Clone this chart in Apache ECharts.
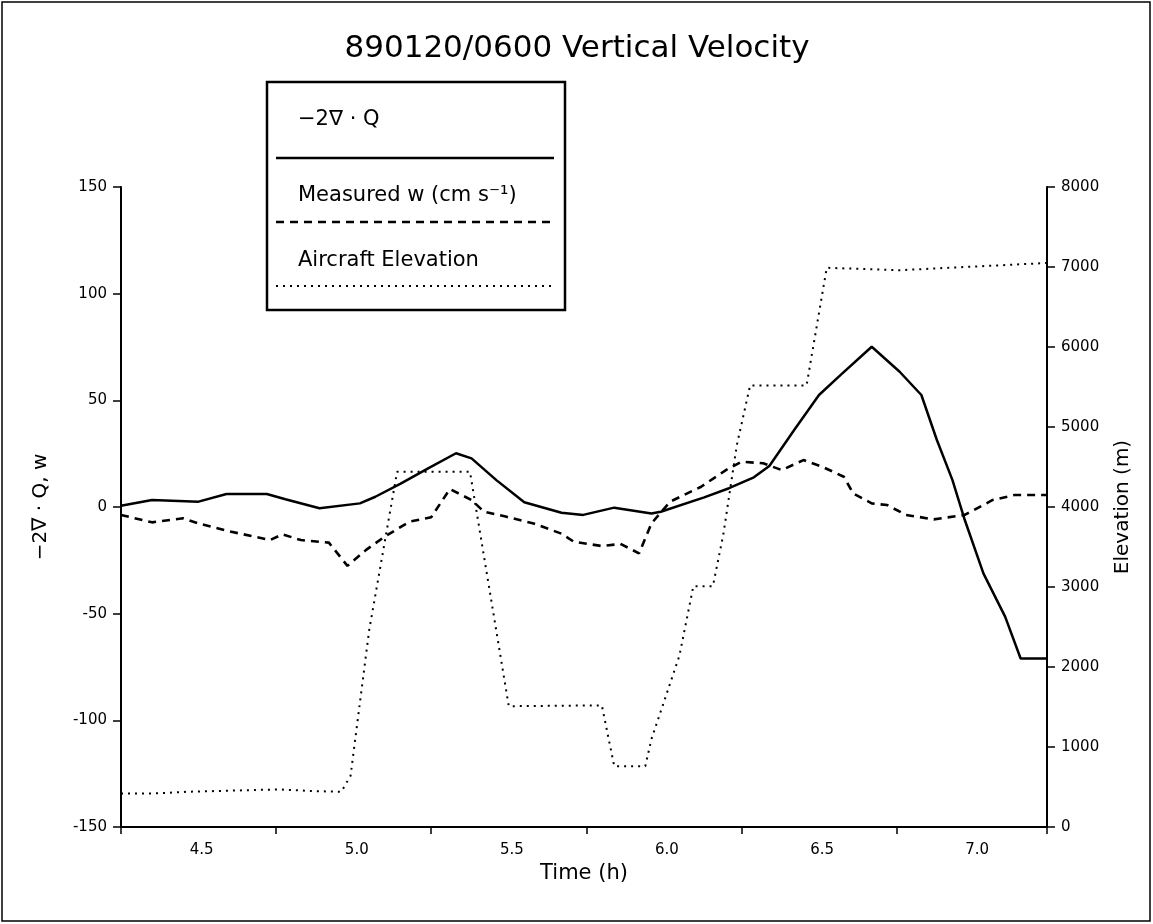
<!DOCTYPE html>
<html>
<head>
<meta charset="utf-8">
<script src="https://cdn.jsdelivr.net/npm/echarts@6/dist/echarts.min.js"></script>
<style>
  html, body { margin: 0; padding: 0; background: #fff; }
  #chart { width: 1153px; height: 924px; }
</style>
</head>
<body>
<div id="chart"></div>
<script>
// -2 div Q (solid)
var timeQ = [4.24, 4.34, 4.49, 4.58, 4.71, 4.77, 4.88, 5.01, 5.06, 5.14, 5.23, 5.32, 5.37, 5.45, 5.54, 5.66, 5.73, 5.83, 5.95, 5.98,
  6.12, 6.20, 6.28, 6.33, 6.41, 6.49, 6.56, 6.66, 6.75, 6.82, 6.87, 6.92, 6.96, 7.02, 7.09, 7.14, 7.225];
var divQ = [0.6, 3.3, 2.5, 6.1, 6.1, 3.6, -0.6, 1.7, 4.8, 10.8, 18.1, 25.2, 22.8, 12.6, 2.2, -2.7, -3.7, -0.3, -3.0, -2.2,
  4.5, 8.8, 13.9, 19.2, 36.1, 52.5, 61.9, 75.1, 63.4, 52.5, 31.4, 12.7, -6.1, -31.1, -51.4, -71, -71];

// measured w (dashed)
var timeW = [4.24, 4.34, 4.44, 4.49, 4.58, 4.66, 4.72, 4.76, 4.82, 4.91, 4.97, 5.03, 5.09, 5.17, 5.24, 5.30, 5.37, 5.41, 5.48,
  5.57, 5.66, 5.70, 5.79, 5.85, 5.91, 5.95, 6.01, 6.11, 6.19, 6.24, 6.31, 6.37, 6.44, 6.50, 6.57, 6.60, 6.66, 6.71, 6.77, 6.86,
  6.96, 7.05, 7.12, 7.225];
var measuredW = [-3.7, -7.2, -5.3, -7.7, -11.1, -13.6, -15.5, -12.8, -15.5, -16.7, -27.6, -20.1, -13.9, -6.9, -4.8, 8.4, 3.3, -2.2, -4.5,
  -7.7, -12.5, -16.3, -18.3, -17.3, -21.7, -7.7, 2.5, 9.5, 17.3, 21.2, 20.5, 17.3, 22.0, 18.9, 14.2, 6.4, 1.7, 0.9, -3.7, -5.8,
  -3.7, 3.3, 5.6, 5.6];

// aircraft elevation (dotted, right axis)
var timeElev = [4.24, 4.35, 4.45, 4.55, 4.65, 4.75, 4.85, 4.95, 4.98, 5.04, 5.13, 5.365, 5.49, 5.79, 5.83, 5.93, 5.95, 6.04,
  6.085, 6.148, 6.182, 6.225, 6.268, 6.45, 6.515, 6.75, 7.225];
var elevation = [420, 420, 440, 450, 460, 470, 450, 440, 640, 2460, 4440, 4440, 1510, 1520, 760, 760, 1100, 2140,
  3010, 3010, 3665, 4770, 5520, 5520, 6990, 6960, 7050];

var xLabelValues = [4.5, 5.0, 5.5, 6.0, 6.5, 7.0];
var xTickValues = [4.24, 4.74, 5.24, 5.74, 6.24, 6.74, 7.225];

function pairs(xs, ys) {
  return xs.map(function (x, i) { return [x, ys[i]]; });
}

var font = "DejaVu Sans";
var chart = echarts.init(document.getElementById("chart"));
var axisLine = { show: true, onZero: false, lineStyle: { color: "#000", width: 2 } };
var axisTick = { show: true, inside: false, length: 8, lineStyle: { color: "#000", width: 1.5 } };
var axisLabel = { color: "#000", fontFamily: font, fontSize: 15, margin: 14, formatter: function (v) { return String(v); } };

var option = {
  backgroundColor: "#fff",
  animation: false,
  title: {
    text: "890120/0600 Vertical Velocity",
    left: 572, top: 28, textAlign: "center",
    textStyle: { fontFamily: font, fontWeight: "normal", fontSize: 31, color: "#000" }
  },
  grid: { left: 121, right: 106, top: 187, bottom: 97 },
  xAxis: {
    type: "value", min: 4.24, max: 7.225,
    name: "Time (h)", nameLocation: "middle", nameGap: 35,
    nameTextStyle: { fontFamily: font, fontSize: 21, color: "#000" },
    axisLine: axisLine,
    axisTick: { show: true, length: 7, customValues: xTickValues, lineStyle: { color: "#000", width: 1.5 } },
    splitLine: { show: false },
    axisLabel: {
      color: "#000", fontFamily: font, fontSize: 15, margin: 16,
      customValues: xLabelValues,
      formatter: function (v) { return v.toFixed(1); }
    }
  },
  yAxis: [
    {
      type: "value", min: -150, max: 150, interval: 50, position: "left",
      axisLine: axisLine, axisTick: axisTick, axisLabel: axisLabel, splitLine: { show: false },
      name: "\u22122\u2207 \u00b7 Q, w", nameLocation: "middle", nameGap: 70, nameRotate: 90,
      nameTextStyle: { fontFamily: font, fontSize: 20, color: "#000" }
    },
    {
      type: "value", min: 0, max: 8000, interval: 1000, position: "right",
      axisLine: axisLine, axisTick: axisTick, axisLabel: axisLabel, splitLine: { show: false },
      name: "Elevation (m)", nameLocation: "middle", nameGap: 66, nameRotate: 90,
      nameTextStyle: { fontFamily: font, fontSize: 20, color: "#000" }
    }
  ],
  series: [
    {
      name: "\u22122\u2207 \u00b7 Q", type: "line", data: pairs(timeQ, divQ),
      showSymbol: false, lineStyle: { color: "#000", width: 2.5 }, z: 3
    },
    {
      name: "Measured w (cm s\u207b\u00b9)", type: "line", data: pairs(timeW, measuredW),
      showSymbol: false, lineStyle: { color: "#000", width: 2.6, type: [8, 6] }, z: 3
    },
    {
      name: "Aircraft Elevation", type: "line", yAxisIndex: 1, data: pairs(timeElev, elevation),
      showSymbol: false, lineStyle: { color: "#000", width: 2, type: [2, 5] }, z: 2
    }
  ],
  graphic: [
    // outer frame
    { type: "rect", shape: { x: 2, y: 2, width: 1148, height: 919 }, style: { fill: null, stroke: "#000", lineWidth: 1.5 }, silent: true },
    // legend box
    { type: "rect", shape: { x: 267, y: 82, width: 298, height: 228 }, style: { fill: "#fff", stroke: "#000", lineWidth: 2.5 }, z: 10 },
    { type: "text", left: 298, top: 109, style: { text: "\u22122\u2207 \u00b7 Q", font: "21px " + font, fill: "#000" }, z: 11 },
    { type: "line", shape: { x1: 276, y1: 158, x2: 554, y2: 158 }, style: { stroke: "#000", lineWidth: 2.5 }, z: 11 },
    { type: "text", left: 298, top: 185, style: { text: "Measured w (cm s\u207b\u00b9)", font: "21px " + font, fill: "#000" }, z: 11 },
    { type: "line", shape: { x1: 276, y1: 222, x2: 554, y2: 222 }, style: { stroke: "#000", lineWidth: 2.5, lineDash: [8, 6] }, z: 11 },
    { type: "text", left: 298, top: 250, style: { text: "Aircraft Elevation", font: "21px " + font, fill: "#000" }, z: 11 },
    { type: "line", shape: { x1: 276, y1: 286, x2: 554, y2: 286 }, style: { stroke: "#000", lineWidth: 2, lineDash: [2, 5] }, z: 11 }
  ]
};
chart.setOption(option);
</script>
</body>
</html>
